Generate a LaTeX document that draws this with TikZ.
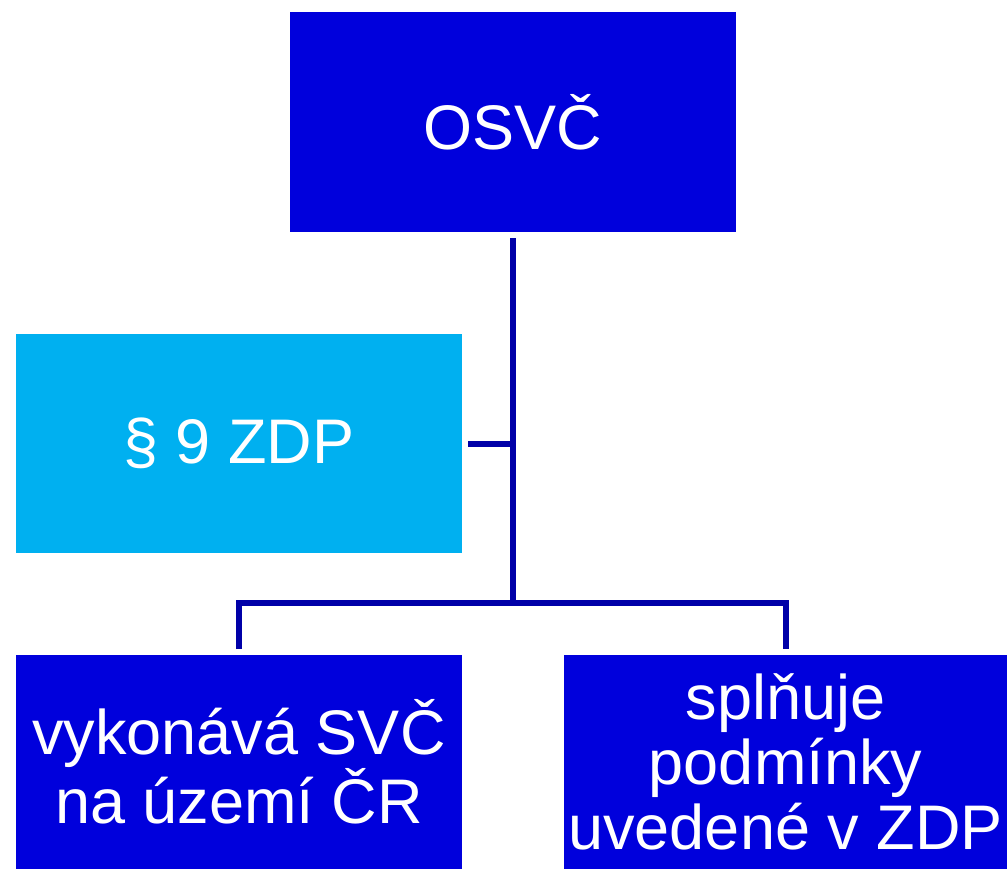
\documentclass[tikz,border=0pt]{standalone}
\usepackage{fontspec}
\setmainfont{Liberation Sans}
\usepackage{xcolor}
\usetikzlibrary{positioning,calc}

\definecolor{boxblue}{RGB}{0,0,220}
\definecolor{lightblue}{RGB}{0,176,240}
\definecolor{lineblue}{RGB}{0,0,168}

\begin{document}
\begin{tikzpicture}[x=1pt, y=-1pt,
        block/.style={rectangle, fill=boxblue, text=white, inner sep=0pt, outer sep=6pt, align=center,
            minimum width=446pt, font=\fontsize{63}{65}\selectfont},
        conn/.style={draw=lineblue, line width=6pt}
    ]
        \useasboundingbox (0,0) rectangle (1007,871);

        \node [block, minimum height=220pt] (osvc) at (513,122) {OSVČ};
        \node [block, fill=lightblue, minimum height=219pt] (par9) at (239,443.5) {§ 9 ZDP};
        \node [block, minimum height=214pt] (svc) at (239,762) {vykonává SVČ\\na území ČR};
        \node [block, minimum height=214pt, minimum width=443pt] (cond) at (785.5,762) {splňuje\\podmínky\\uvedené v ZDP};

        \coordinate (fork) at (osvc.south |- 0,603);

        \draw [conn] (osvc.south) -- (fork);
        \draw [conn] (par9.east) -- (par9.east -| osvc.south);
        \draw [conn] (svc.north) |- (fork) -| (cond.north);
    \end{tikzpicture}
\end{document}
